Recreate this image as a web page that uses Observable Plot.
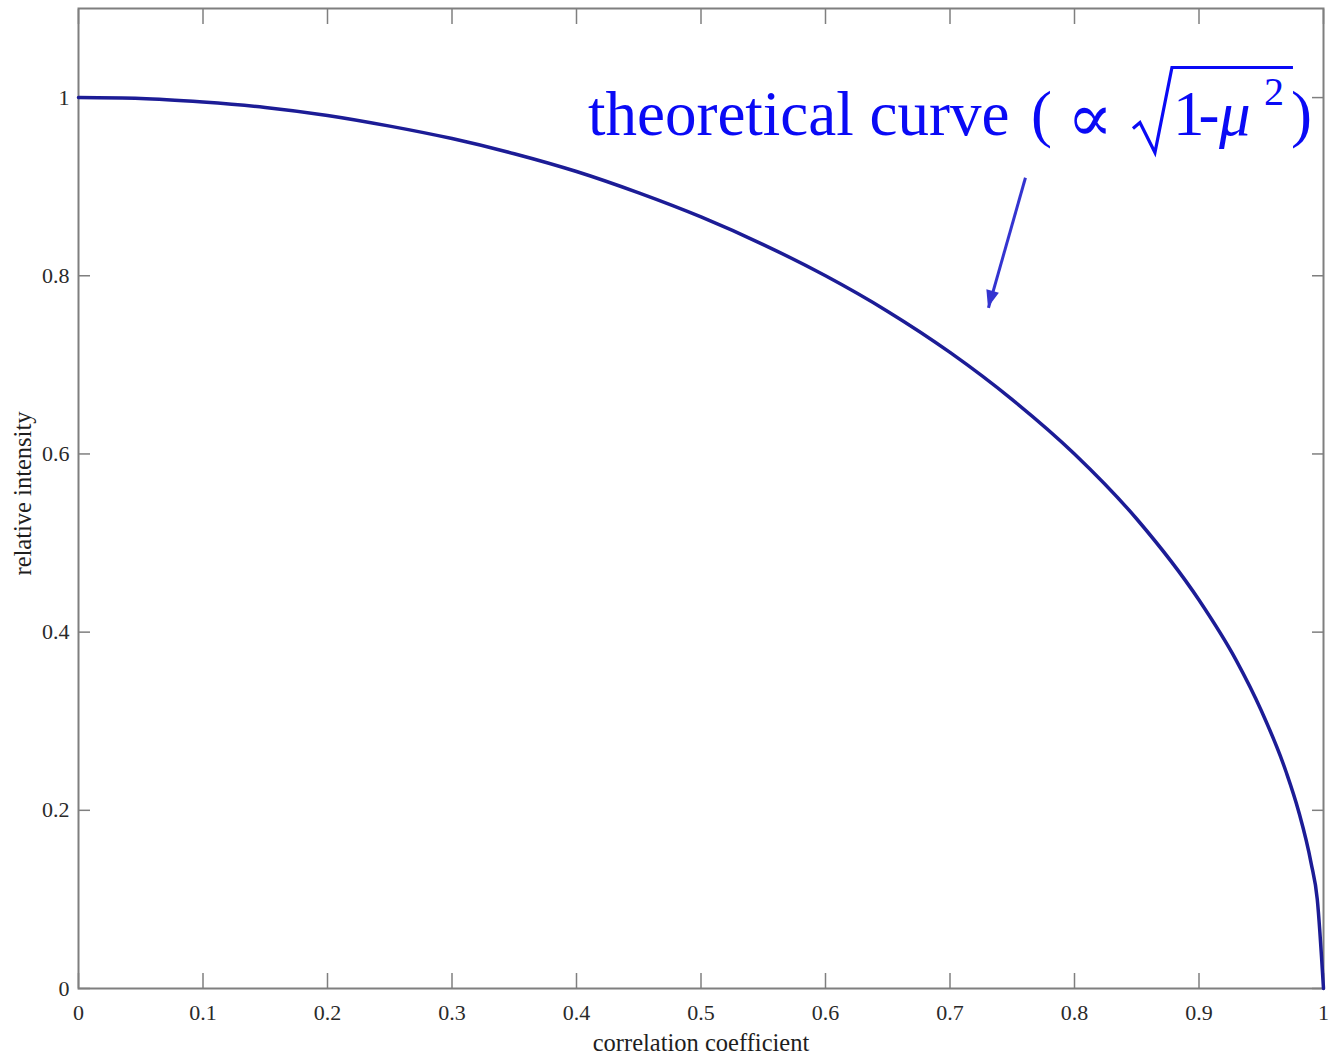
<!DOCTYPE html>
<html>
<head>
<meta charset="utf-8">
<script src="https://cdn.jsdelivr.net/npm/d3@7"></script>
<script src="https://cdn.jsdelivr.net/npm/@observablehq/plot@0.6"></script>
<style>
  html, body { margin: 0; padding: 0; background: #fff; }
  #chart svg { display: block; }
</style>
</head>
<body>
<div id="chart"></div>
<script>
// ---- data ----
const muValues = [0, 0.05, 0.1, 0.15, 0.2, 0.25, 0.3, 0.35, 0.4, 0.45, 0.5, 0.55, 0.6, 0.65, 0.7, 0.75, 0.8, 0.85, 0.9, 0.93, 0.95, 0.97, 0.98, 0.99, 0.995, 1];
const intensityValues = [1.000, 0.999, 0.995, 0.989, 0.980, 0.968, 0.954, 0.937, 0.917, 0.893, 0.866, 0.835, 0.800, 0.760, 0.714, 0.661, 0.600, 0.527, 0.436, 0.368, 0.312, 0.243, 0.199, 0.141, 0.100, 0.000];
const xTicks = [0, 0.1, 0.2, 0.3, 0.4, 0.5, 0.6, 0.7, 0.8, 0.9, 1];
const yTicks = [0, 0.2, 0.4, 0.6, 0.8, 1];
const xLabel = "correlation coefficient";
const yLabel = "relative intensity";
const annotationMain = "theoretical curve";
const annotationAnchor = [0.4096, 0.958];       // data coords of text start (baseline)
const arrowFrom = [0.7606, 0.910];
const arrowTo = [0.7309, 0.764];

const curve = muValues.map((x, i) => ({x, y: intensityValues[i]}));
const fmt = d => d === 0 ? "0" : d === 1 ? "1" : String(d);

const frameColor = "#7f7f7f";
const tickFont = {fontSize: 22, fill: "#2a2a2a"};
const annColor = "#0a0af5";
const arrowColor = "#3434d0";

const plot = Plot.plot({
  width: 1331,
  height: 1055,
  marginLeft: 78,
  marginRight: 8,
  marginTop: 8,
  marginBottom: 67,
  x: {domain: [0, 1]},
  y: {domain: [0, 1.1]},
  style: {fontFamily: "'Liberation Serif', 'Times New Roman', serif", background: "#fff", color: "#333"},
  marks: [
    Plot.frame({stroke: frameColor, strokeWidth: 2}),
    // inward ticks on all four sides
    Plot.axisX(xTicks, {anchor: "bottom", tickSize: -15, tickFormat: () => "", stroke: frameColor, strokeWidth: 1.5, label: null}),
    Plot.axisX(xTicks, {anchor: "top", tickSize: -15, tickFormat: () => "", stroke: frameColor, strokeWidth: 1.5, label: null}),
    Plot.axisY(yTicks, {anchor: "left", tickSize: -12, tickFormat: () => "", stroke: frameColor, strokeWidth: 1.5, label: null}),
    Plot.axisY(yTicks, {anchor: "right", tickSize: -12, tickFormat: () => "", stroke: frameColor, strokeWidth: 1.5, label: null}),
    // tick labels
    Plot.axisX(xTicks, {anchor: "bottom", tickSize: 0, tickPadding: 16, tickFormat: fmt, label: null, ...tickFont}),
    Plot.axisY(yTicks, {anchor: "left", tickSize: 0, tickPadding: 9, tickFormat: fmt, label: null, ...tickFont}),
    // axis titles
    Plot.text([xLabel], {frameAnchor: "bottom", dy: 55, lineAnchor: "middle", textAnchor: "middle", fontSize: 24.5, fill: "#1e1e1e", text: d => d}),
    Plot.text([yLabel], {frameAnchor: "left", dx: -55, dy: -5, rotate: -90, lineAnchor: "middle", textAnchor: "middle", fontSize: 24.5, fill: "#1e1e1e", text: d => d}),
    // curve
    Plot.line(curve, {x: "x", y: "y", stroke: "#1c1c96", strokeWidth: 3.5, curve: "monotone-x"}),
    // annotation arrow shaft
    Plot.link([{x1: arrowFrom[0], y1: arrowFrom[1], x2: arrowTo[0], y2: arrowTo[1]}],
      {x1: "x1", y1: "y1", x2: "x2", y2: "y2", stroke: arrowColor, strokeWidth: 3})
  ]
});

const svg = d3.select(plot);
const sx = plot.scale("x"), sy = plot.scale("y");

// filled arrowhead at the arrow's end, oriented along the shaft
{
  const fx = sx.apply(arrowFrom[0]), fy = sy.apply(arrowFrom[1]);
  const tx = sx.apply(arrowTo[0]), ty = sy.apply(arrowTo[1]);
  const len = Math.hypot(tx - fx, ty - fy);
  const ux = (tx - fx) / len, uy = (ty - fy) / len;
  const hl = 17, hw = 6.5;
  const bx = tx - ux * hl, by = ty - uy * hl;
  svg.append("path")
    .attr("d", `M${tx},${ty} L${bx - uy * hw},${by + ux * hw} L${bx + uy * hw},${by - ux * hw} Z`)
    .attr("fill", arrowColor);
}

// rich-text annotation (sqrt formula), positioned through the plot's scales
const ax = sx.apply(annotationAnchor[0]);
const ay = sy.apply(annotationAnchor[1]);
const g = svg.append("g").attr("transform", `translate(${ax},${ay})`)
  .attr("fill", annColor)
  .attr("text-anchor", "start")
  .style("font-family", "'Liberation Serif', 'Times New Roman', serif");
g.append("text").attr("x", 0).attr("y", 0).attr("font-size", 63).text(annotationMain);
g.append("text").attr("x", 443).attr("y", 0).attr("font-size", 63).text("(");
g.append("text").attr("x", 479).attr("y", 6).attr("font-size", 68).style("font-family", "'DejaVu Serif', serif").text("\u221D");
g.append("path")
  .attr("d", "M545,-6 L552,-12 L567,18 L584,-67 L705,-67")
  .attr("fill", "none").attr("stroke", annColor).attr("stroke-width", 3.2).attr("stroke-linejoin", "miter");
g.append("text").attr("x", 585).attr("y", 0).attr("font-size", 63).attr("letter-spacing", -6).text("1-");
g.append("text").attr("x", 631).attr("y", 0).attr("font-size", 63).attr("font-style", "italic").text("\u03BC");
g.append("text").attr("x", 676).attr("y", -30).attr("font-size", 40).text("2");
g.append("text").attr("x", 703).attr("y", 0).attr("font-size", 63).text(")");

document.getElementById("chart").appendChild(plot);
</script>
</body>
</html>
